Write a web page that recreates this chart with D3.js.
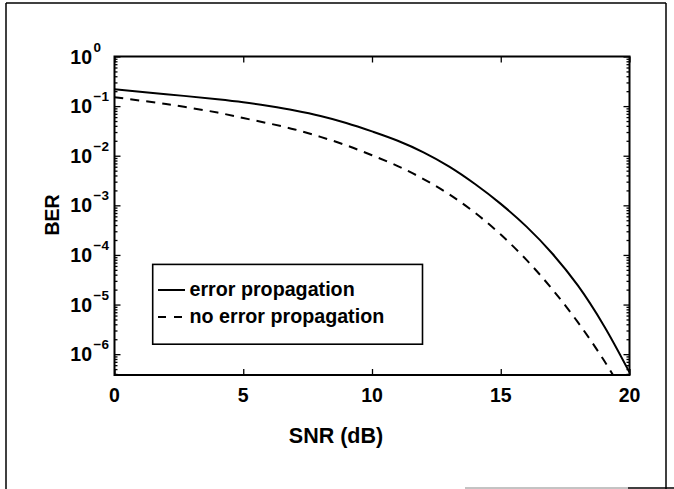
<!DOCTYPE html>
<html><head><meta charset="utf-8">
<script src="https://cdn.jsdelivr.net/npm/d3@7"></script>
<style>
html,body{margin:0;padding:0;background:#fff;}
text{font-family:"Liberation Sans",Arial,Helvetica,sans-serif;font-weight:bold;fill:#000;}
</style></head>
<body>
<svg id="c" width="674" height="489"></svg>
<script>
// ---- data ----
const snr = [0, 2, 4, 5, 6, 7, 8, 9, 10, 11, 12, 13, 14, 15, 16, 17, 18, 19, 20];
const berErrorProp = [0.219, 0.174, 0.138, 0.120, 0.100, 0.0813, 0.0631, 0.0457, 0.0309, 0.0200,
  0.0117, 0.00603, 0.00269, 0.00107, 0.000372, 0.000107, 0.0000240, 0.0000038, 0.00000043];
const berNoErrorProp = [0.151, 0.110, 0.0741, 0.0575, 0.0447, 0.0339, 0.0240, 0.0162, 0.0102, 0.00617,
  0.00339, 0.00166, 0.000708, 0.000257, 0.0000794, 0.0000204, 0.00000437, 0.00000076, 0.000000105];
const xTicks = [0, 5, 10, 15, 20];
const yTickExps = [0, -1, -2, -3, -4, -5, -6];
const legendLabels = ["error propagation", "no error propagation"];
const xLabel = "SNR (dB)";
const yLabel = "BER";

// ---- layout ----
const L = 114.5, R = 629.5, T = 56.5, B = 375;
const svg = d3.select("#c");

// outer frame (scanned page border)
svg.append("line").attr("x1",6).attr("y1",3).attr("x2",666).attr("y2",3).attr("stroke","#000").attr("stroke-width",1.5);
svg.append("line").attr("x1",6).attr("y1",3).attr("x2",6).attr("y2",489).attr("stroke","#000").attr("stroke-width",1.5);
svg.append("line").attr("x1",666).attr("y1",3).attr("x2",666).attr("y2",489).attr("stroke","#000").attr("stroke-width",1.5);
svg.append("line").attr("x1",465).attr("y1",488).attr("x2",628).attr("y2",488).attr("stroke","#888").attr("stroke-width",1);
svg.append("line").attr("x1",628).attr("y1",488).attr("x2",674).attr("y2",488).attr("stroke","#000").attr("stroke-width",1.5);

const x = d3.scaleLinear().domain([0, 20]).range([L, R]);
const y = d3.scaleLog().domain([Math.pow(10, -6.42), 1]).range([B, T]);

// minor ticks on the log axis
const minorVals = [];
for (let e = -7; e < 0; e++) for (let m = 2; m <= 9; m++) {
  const v = m * Math.pow(10, e);
  if (v >= y.domain()[0] && v <= 1) minorVals.push(v);
}
const majorVals = yTickExps.map(e => Math.pow(10, e));

function styleAxis(g){ g.select(".domain").remove(); g.selectAll("line").attr("stroke","#000").attr("stroke-width",1.3); g.selectAll("text").remove(); }

svg.append("g").attr("transform",`translate(${L},0)`).call(d3.axisLeft(y).tickValues(majorVals).tickSize(-6).tickFormat("")).call(styleAxis);
svg.append("g").attr("transform",`translate(${L},0)`).call(d3.axisLeft(y).tickValues(minorVals).tickSize(-3).tickFormat("")).call(styleAxis);
svg.append("g").attr("transform",`translate(${R},0)`).call(d3.axisRight(y).tickValues(majorVals).tickSize(-6).tickFormat("")).call(styleAxis);
svg.append("g").attr("transform",`translate(${R},0)`).call(d3.axisRight(y).tickValues(minorVals).tickSize(-3).tickFormat("")).call(styleAxis);
svg.append("g").attr("transform",`translate(0,${B})`).call(d3.axisBottom(x).tickValues(xTicks).tickSize(-6).tickFormat("")).call(styleAxis);
svg.append("g").attr("transform",`translate(0,${T})`).call(d3.axisTop(x).tickValues(xTicks).tickSize(-6).tickFormat("")).call(styleAxis);

// plot frame
svg.append("rect").attr("x",L).attr("y",T).attr("width",R-L).attr("height",B-T)
  .attr("fill","none").attr("stroke","#000").attr("stroke-width",2);

// y tick labels: 10^e
yTickExps.forEach(e => {
  const yy = y(Math.pow(10, e));
  svg.append("text").attr("x", 92).attr("y", yy + 7).attr("text-anchor","end")
    .attr("font-size", 19.5).text("10");
  svg.append("text").attr("x", 93.5).attr("y", yy - 5).attr("font-size", 13.5)
    .text(e === 0 ? "0" : "\u2212" + Math.abs(e));
});

// x tick labels
xTicks.forEach(v => {
  svg.append("text").attr("x", x(v)).attr("y", 401.5).attr("text-anchor","middle")
    .attr("font-size", 19.5).text(v);
});

// axis titles
svg.append("text").attr("x", 336).attr("y", 443).attr("text-anchor","middle").attr("font-size",21.5).text(xLabel);
svg.append("text").attr("transform","translate(59,215) rotate(-90)").attr("text-anchor","middle").attr("font-size",19.5).text(yLabel);

// clip
svg.append("clipPath").attr("id","clip").append("rect").attr("x",L).attr("y",T).attr("width",R-L).attr("height",B-T);

const line = d3.line().x((d,i) => x(snr[i])).y(d => y(d)).curve(d3.curveCatmullRom.alpha(0.5));
const gl = svg.append("g").attr("clip-path","url(#clip)");
gl.append("path").datum(berErrorProp).attr("d", line).attr("fill","none").attr("stroke","#000").attr("stroke-width",2);
gl.append("path").datum(berNoErrorProp).attr("d", line).attr("fill","none").attr("stroke","#000").attr("stroke-width",2).attr("stroke-dasharray","9,7");

// legend
const lg = svg.append("g");
lg.append("rect").attr("x",152.7).attr("y",264.4).attr("width",422.5-152.7).attr("height",344.2-264.4)
  .attr("fill","#fff").attr("stroke","#000").attr("stroke-width",1.6);
const ly = [290, 317];
legendLabels.forEach((t, i) => {
  lg.append("line").attr("x1",158).attr("x2",185).attr("y1",ly[i]).attr("y2",ly[i])
    .attr("stroke","#000").attr("stroke-width",2).attr("stroke-dasharray", i ? "8,8" : null);
  lg.append("text").attr("x",189.5).attr("y",ly[i] + 6).attr("font-size",19.7).text(t);
});
</script>
</body></html>
